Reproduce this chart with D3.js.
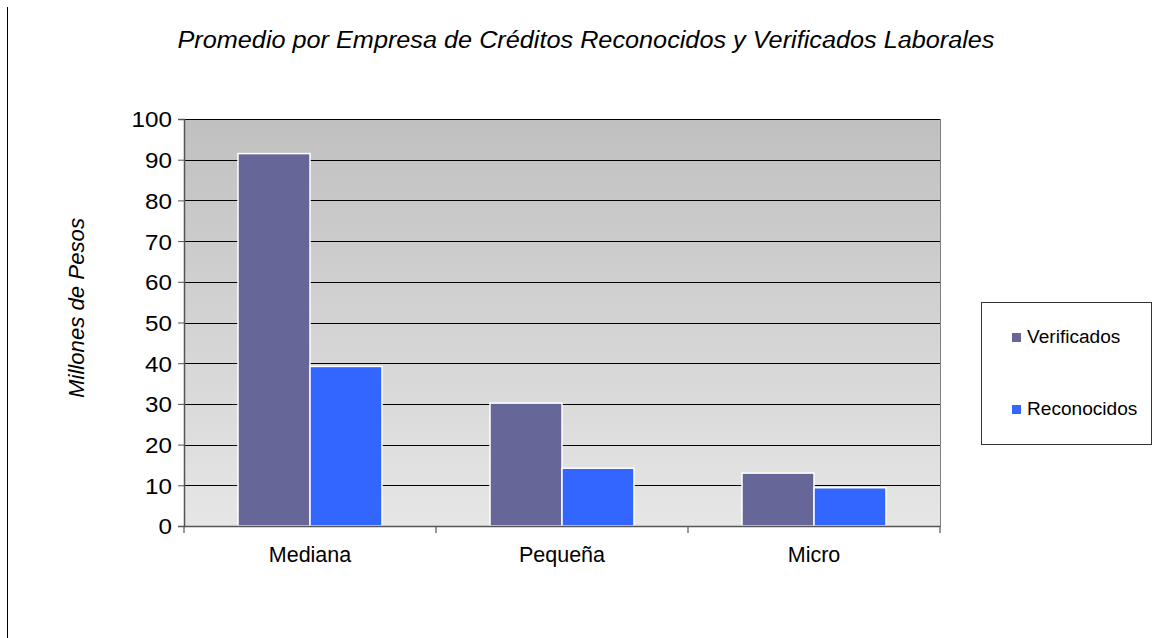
<!DOCTYPE html>
<html><head><meta charset="utf-8">
<script src="https://cdn.jsdelivr.net/npm/d3@7"></script>
<style>body{margin:0;background:#fff;}svg{display:block;font-family:"Liberation Sans",Arial,sans-serif;}</style>
</head><body>
<svg id="c" width="1153" height="638"></svg>
<script>
const categories = ["Mediana", "Pequeña", "Micro"];
const seriesNames = ["Verificados", "Reconocidos"];
const verificados = [91.5, 30.2, 13.0];
const reconocidos = [39.2, 14.2, 9.4];
const yTicks = [0,10,20,30,40,50,60,70,80,90,100];
const colors = ["#666699", "#3366ff"];

const svg = d3.select("#c");
const L = 184, R = 940, T = 119, B = 526;

function stretch(sel, f){
  sel.each(function(){
    const len = this.getComputedTextLength();
    d3.select(this).attr("textLength", len*f).attr("lengthAdjust","spacingAndGlyphs");
  });
}

// page left border line
svg.append("line").attr("x1",7.5).attr("x2",7.5).attr("y1",7).attr("y2",638).attr("stroke","#000").attr("stroke-width",1);

const defs = svg.append("defs");
const g = defs.append("linearGradient").attr("id","bg").attr("x1",0).attr("x2",0).attr("y1",0).attr("y2",1);
g.append("stop").attr("offset","0%").attr("stop-color","#c0c0c0");
g.append("stop").attr("offset","100%").attr("stop-color","#e6e6e6");

const x0 = d3.scaleBand().domain(categories).range([L,R]).paddingInner(0.4286).paddingOuter(0.2143);
const x1 = d3.scaleBand().domain(seriesNames).range([0,x0.bandwidth()]);
const y = d3.scaleLinear().domain([0,100]).range([B,T]);

svg.append("rect").attr("x",L).attr("y",T).attr("width",R-L).attr("height",B-T).attr("fill","url(#bg)");

// gridlines
svg.append("g").selectAll("line").data(yTicks.filter(d=>d>0)).join("line")
  .attr("x1",L).attr("x2",R).attr("y1",d=>Math.round(y(d))+0.5).attr("y2",d=>Math.round(y(d))+0.5)
  .attr("stroke","#000").attr("stroke-width",1);
svg.append("line").attr("x1",R+0.5).attr("x2",R+0.5).attr("y1",T).attr("y2",B).attr("stroke","#808080");

// bars
const data = categories.map((c,i)=>({c, vals:[verificados[i], reconocidos[i]]}));
const grp = svg.append("g").selectAll("g").data(data).join("g").attr("transform",d=>`translate(${x0(d.c)},0)`);
grp.selectAll("rect").data(d=>d.vals.map((v,j)=>({s:seriesNames[j],v,j}))).join("rect")
  .attr("x",d=>x1(d.s)).attr("width",x1.bandwidth())
  .attr("y",d=>y(d.v)).attr("height",d=>B-y(d.v))
  .attr("fill",d=>colors[d.j]).attr("stroke","#fff").attr("stroke-width",1.5);

// y axis
const ya = svg.append("g").attr("transform",`translate(${L},0)`)
  .call(d3.axisLeft(y).tickValues(yTicks).tickSize(6).tickPadding(6));
ya.select(".domain").attr("stroke","#555").attr("stroke-width",1.5);
ya.selectAll(".tick line").attr("stroke","#555");
ya.selectAll("text").attr("font-size",22).attr("fill","#000").attr("font-family","Liberation Sans, Arial, sans-serif").attr("dy","0.36em");
stretch(ya.selectAll("text"), 1.1);

// x axis
const xa = svg.append("g").attr("transform",`translate(0,${B})`)
  .call(d3.axisBottom(x0).tickSize(0).tickPadding(21));
xa.select(".domain").attr("stroke","#555").attr("stroke-width",1.5);
xa.selectAll("text").attr("font-size",21.5).attr("fill","#000").attr("font-family","Liberation Sans, Arial, sans-serif");
const step = x0.step();
const bounds = d3.range(categories.length+1).map(i=>L+i*step);
svg.append("g").selectAll("line").data(bounds).join("line")
  .attr("x1",d=>d).attr("x2",d=>d).attr("y1",B).attr("y2",B+7).attr("stroke","#555").attr("stroke-width",1.2);

// title
const title = svg.append("text").attr("x",586).attr("y",48).attr("text-anchor","middle")
  .attr("font-size",23.5).attr("font-style","italic").text("Promedio por Empresa de Créditos Reconocidos y Verificados Laborales");
title.attr("textLength",817).attr("lengthAdjust","spacingAndGlyphs");

// y label
const yl = svg.append("text").attr("transform","translate(84,308) rotate(-90)").attr("text-anchor","middle")
  .attr("font-size",22).attr("font-style","italic").text("Millones de Pesos");
yl.attr("textLength",180).attr("lengthAdjust","spacingAndGlyphs");

// legend
svg.append("rect").attr("x",981.5).attr("y",302.5).attr("width",170).attr("height",142).attr("fill","#fff").attr("stroke","#333");
const lg = svg.append("g").selectAll("g").data(seriesNames).join("g")
  .attr("transform",(d,i)=>`translate(1012,${343+i*72})`);
lg.append("rect").attr("x",0).attr("y",-10).attr("width",9).attr("height",9).attr("fill",(d,i)=>colors[i]);
const lt = lg.append("text").attr("x",15).attr("y",0).attr("font-size",18).text(d=>d);
stretch(lt, 1.06);
</script>
</body></html>
